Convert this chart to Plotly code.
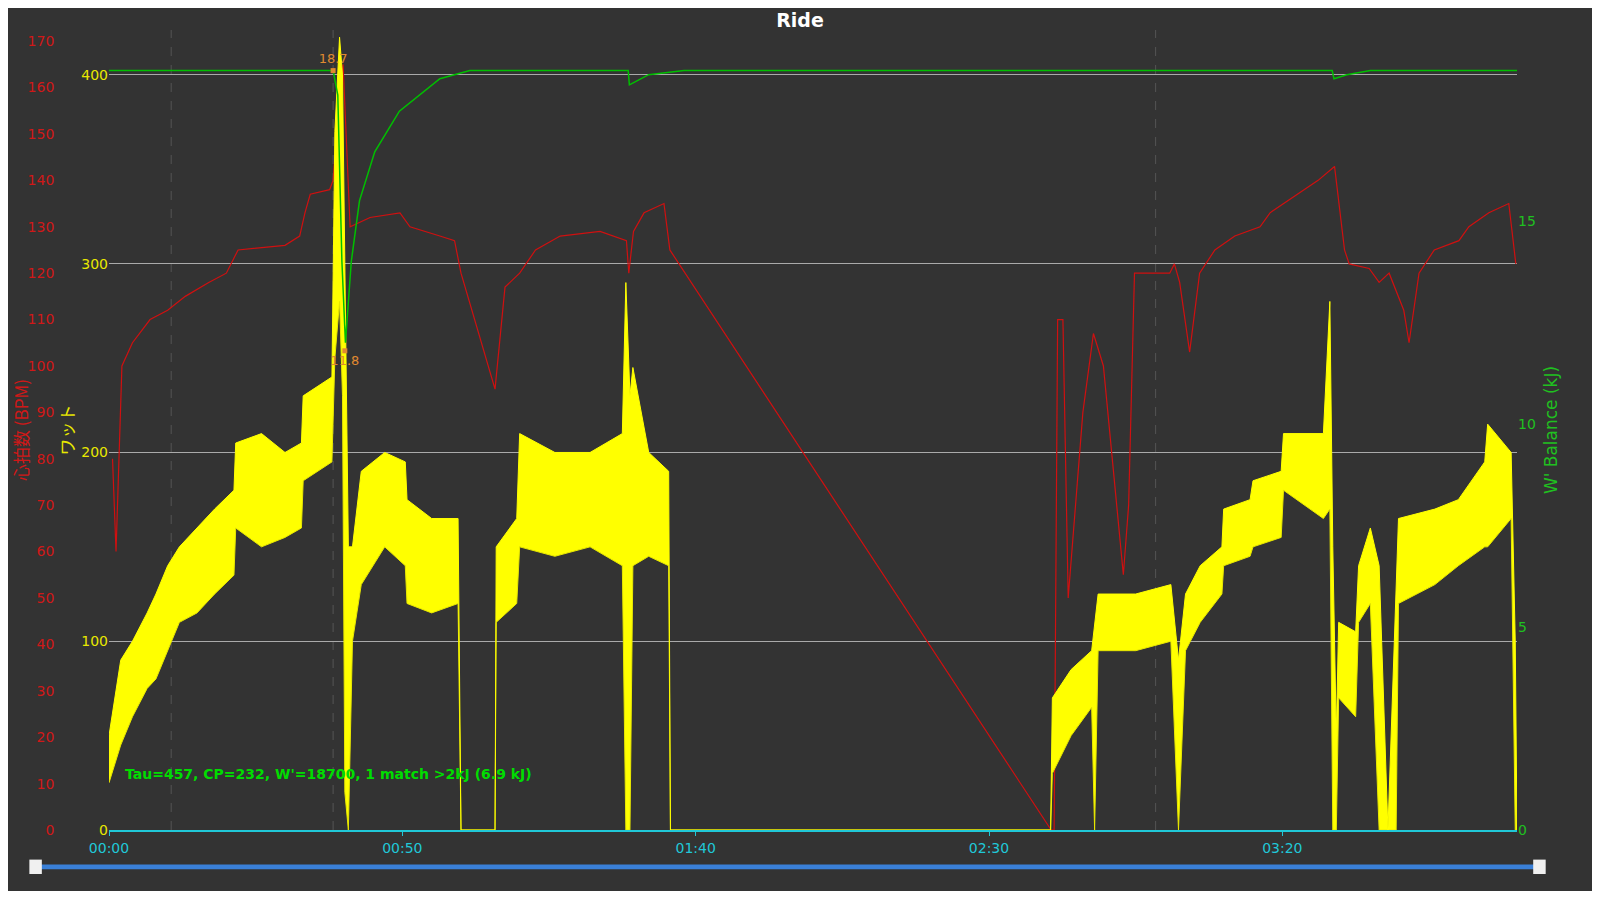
import plotly.graph_objects as go

# Power envelope (minutes, low W, high W)
p_t  = [0,2,4,6.5,8,10,12,15,18,21.3,21.6,26,30,32.8,33.1,38.0,38.5,39.3,39.8,40.2,40.8,41.5,43,47,50.5,50.8,55,59.5,60.0,65.8,66.0,69.5,70,76,82,87.5,88.1,88.8,89.3,92,95.4,95.7,160.5,160.8,164,167.5,168.0,168.6,175,181,182.3,183.5,186,189.7,190,194.5,195,199.8,200.2,207,208.1,208.6,209.2,209.6,212.5,213,215,216.5,218,219.4,219.8,226,230,234.5,235,239,239.7,240]
p_lo = [25,45,60,75,80,95,110,115,125,135,160,150,155,160,185,195,250,280,230,20,0,100,130,150,140,120,115,120,0,0,110,120,150,145,150,140,0,0,140,145,140,0,0,30,50,65,0,95,95,100,0,95,110,125,140,145,150,155,180,165,170,0,0,70,60,110,120,0,0,0,120,130,140,150,150,165,0,0]
p_hi = [50,90,100,115,125,140,150,160,170,180,205,210,200,205,230,240,370,420,400,300,150,150,190,200,195,175,165,165,0,0,150,165,210,200,200,210,290,230,245,200,190,0,0,70,85,95,110,125,125,130,90,125,140,150,170,175,185,190,210,210,280,150,50,110,105,140,160,140,0,130,165,170,175,195,215,200,100,0]

# Heart rate (minutes, bpm)
hr_t = [0.6,1.2,2.2,4,7,10,13,17,20,22,30,32.5,33.4,34.3,37.6,38.2,39.4,39.9,41.1,44.5,49.6,51.3,56.4,58.9,60,65.8,67.5,70,72.7,76.9,83.7,88.2,88.6,89.4,91.2,94.6,95.6,160.6,161.1,161.7,162.6,163.5,166,167.8,169.5,172.9,173.8,174.8,180.8,181.6,182.5,184.2,185.9,188.5,191.9,196.2,197.9,202.7,206.1,208.9,210.6,211.4,214.8,216.5,218.2,220.7,221.6,223.3,225.9,230.1,231.8,235.2,238.6,239.8]
hr_v = [80,60,100,105,110,112,115,118,120,125,126,128,133,137,138,140,160,165,130,132,133,130,128,127,120,95,117,120,125,128,129,127,120,129,133,135,125,0,0,110,110,50,90,107,100,55,70,120,120,122,118,103,120,125,128,130,133,137,140,143,125,122,121,118,120,112,105,120,125,127,130,133,135,122]

# W' balance (minutes, kJ)
w_t = [0,38.2,39.0,39.7,40.3,41.3,42.7,45.3,49.5,56.4,61.5,88.5,88.7,90,92,98,208.5,208.8,211,215,240]
w_v = [18.7,18.7,18.1,14,12.0,14.0,15.5,16.7,17.7,18.5,18.7,18.7,18.35,18.45,18.6,18.7,18.7,18.5,18.6,18.7,18.7]

x_ticks = [0,50,100,150,200]
x_labels = ["00:00","00:50","01:40","02:30","03:20"]
w_ticks = [0,100,200,300,400]
hr_ticks = list(range(0,171,10))
wb_ticks = [0,5,10,15]

BG = "#333333"
fig = go.Figure()
fig.add_trace(go.Scatter(x=hr_t, y=hr_v, mode="lines", line=dict(color="#d01010", width=1.2), yaxis="y"))
fig.add_trace(go.Scatter(x=p_t, y=p_lo, mode="lines", line=dict(color="#e8e800", width=1), yaxis="y2"))
fig.add_trace(go.Scatter(x=p_t, y=p_hi, mode="lines", line=dict(color="#ffff00", width=1), fill="tonexty",
                         fillcolor="#ffff00", yaxis="y2"))
fig.add_trace(go.Scatter(x=w_t, y=w_v, mode="lines", line=dict(color="#00c000", width=1.5), yaxis="y3"))
fig.add_trace(go.Scatter(x=[38.2, 40.2], y=[18.7, 11.8], mode="markers+text", text=["18.7", "11.8"],
                         textposition=["top center", "bottom center"], textfont=dict(color="#e08a30", size=13),
                         marker=dict(color="#e08a30", size=5, symbol="square"), yaxis="y3"))

dom = [(101-12)/1560, (1509-12)/1560]
for xv in [10.6, 38.2, 178.4]:
    fig.add_shape(type="line", x0=xv, x1=xv, y0=0, y1=1, yref="paper", xref="x",
                  line=dict(color="#555555", width=1, dash="dash"), layer="below")

fig.update_layout(
    width=1584, height=883, paper_bgcolor=BG, plot_bgcolor=BG, showlegend=False,
    margin=dict(l=12, r=12, t=22, b=61),
    title=dict(text="<b>Ride</b>", x=0.5, xanchor="center", y=0.986, yanchor="middle",
               font=dict(color="white", size=19, family="DejaVu Sans")),
    font=dict(family="DejaVu Sans", size=14),
    xaxis=dict(domain=dom, range=[0, 240], tickvals=x_ticks, ticktext=x_labels, showgrid=False, zeroline=False,
               tickfont=dict(color="#20c8d8"), showline=True, linecolor="#20c8d8", linewidth=2,
               ticks="outside", tickcolor="#20c8d8", ticklen=4, automargin=False),
    yaxis=dict(anchor="free", position=0.022, range=[0, 172.4], tickvals=hr_ticks, showgrid=False, zeroline=False,
               automargin=False, tickfont=dict(color="#d01818"),
               title=dict(text="心拍数 (BPM)", font=dict(color="#d01818", family="Noto Sans CJK JP"), standoff=4)),
    yaxis2=dict(overlaying="y", anchor="x", side="left", range=[0, 423.8], tickvals=w_ticks, showgrid=True,
                automargin=False, gridcolor="#aaaaaa", gridwidth=1, zeroline=False, tickfont=dict(color="#e8e800"),
                title=dict(text="ワット", font=dict(color="#e8e800", family="Noto Sans CJK JP"), standoff=2)),
    yaxis3=dict(overlaying="y", anchor="x", side="right", range=[0, 19.7], tickvals=wb_ticks, showgrid=False,
                automargin=False, zeroline=False, tickfont=dict(color="#20c020"),
                title=dict(text="W' Balance (kJ)", font=dict(color="#20c020"), standoff=10)),
)
fig.add_annotation(x=(123-20)/1560, y=0.07, xref="paper", yref="paper",
                   xanchor="left", yanchor="middle", showarrow=False,
                   text="<b>Tau=457, CP=232, W'=18700, 1 match >2kJ (6.9 kJ)</b>", font=dict(color="#00dd00", size=14))
# scrollbar
fig.add_shape(type="rect", xref="paper", yref="paper", x0=0.0096, x1=0.971, y0=-0.049, y1=-0.043,
              line=dict(width=0), fillcolor="#3a80d8")
for x0 in [0.006, 0.97]:
    fig.add_shape(type="rect", xref="paper", yref="paper", x0=x0, x1=x0+0.008, y0=-0.055, y1=-0.037,
                  line=dict(width=0), fillcolor="#f0f0f0")
fig.write_html("out.html")
